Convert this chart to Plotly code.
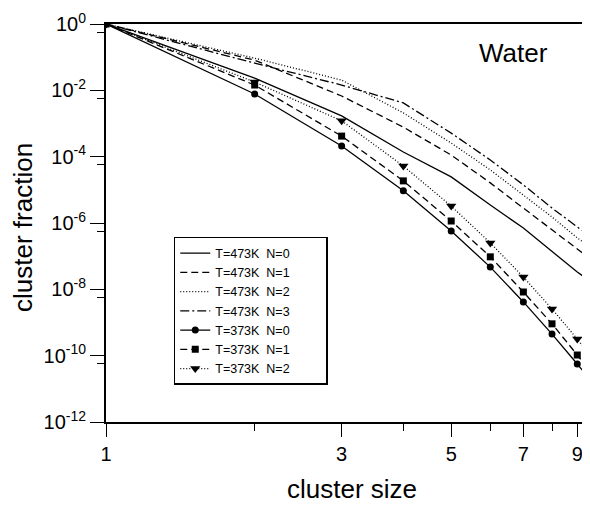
import plotly.graph_objects as go

# cluster size (x) and log10(cluster fraction)
cluster_size = [1, 2, 3, 4, 5, 6, 7, 8, 9, 10]

log_t473_n0 = [0, -1.63, -2.77, -3.86, -4.61, -5.46, -6.15, -6.87, -7.48, -7.96]
log_t473_n1 = [0, -1.09, -2.17, -3.11, -3.95, -4.79, -5.55, -6.21, -6.81, -7.30]
log_t473_n2 = [0, -1.03, -1.69, -2.68, -3.59, -4.40, -5.16, -5.82, -6.45, -6.93]
log_t473_n3 = [0, -1.18, -1.84, -2.38, -3.29, -4.10, -4.85, -5.55, -6.12, -6.60]
log_t373_n0 = [0, -2.11, -3.68, -5.03, -6.24, -7.33, -8.38, -9.35, -10.25, -11.09]
log_t373_n1 = [0, -1.84, -3.38, -4.73, -5.94, -7.02, -8.08, -9.04, -9.98, -10.85]
log_t373_n2 = [0, -1.75, -2.92, -4.28, -5.49, -6.60, -7.63, -8.59, -9.50, -10.37]

PAD = "\u00a0" * 9
series_names = ["T=473K\u00a0 N=0", "T=473K\u00a0 N=1", "T=473K\u00a0 N=2", "T=473K\u00a0 N=3",
                "T=373K\u00a0 N=0", "T=373K\u00a0 N=1", "T=373K\u00a0 N=2"]
series_values = [log_t473_n0, log_t473_n1, log_t473_n2, log_t473_n3,
                 log_t373_n0, log_t373_n1, log_t373_n2]

y_tick_exponents = [0, -2, -4, -6, -8, -10, -12]
x_tick_labels = [1, 3, 5, 7, 9]
x_minor_ticks = [2, 4, 6, 8]

dashes = ["solid", "7px,4px", "1px,2px", "9px,3px,2px,3px", "solid", "7px,4px", "1px,2px"]
symbols = [None, None, None, None, "circle", "square", "triangle-down"]
msizes = [0, 0, 0, 0, 7, 7, 9]

FONT = "Liberation Sans, Arial, Helvetica, sans-serif"

fig = go.Figure()
for name, vals, d, s, ms in zip(series_names, series_values, dashes, symbols, msizes):
    yv = [10 ** v for v in vals]
    if s is None:
        fig.add_trace(go.Scatter(x=cluster_size, y=yv, name=name + PAD, mode="lines",
                                 line=dict(color="black", width=1.3, dash=d)))
    else:
        fig.add_trace(go.Scatter(x=cluster_size, y=yv, name=name + PAD, mode="lines+markers",
                                 line=dict(color="black", width=1.3, dash=d),
                                 marker=dict(symbol=s, size=ms, color="black")))

minor_y = [10 ** (e - 0.25) for e in y_tick_exponents[:-1]]

# page body has an 8px margin, so the figure is 8px smaller and margins shifted
fig.update_layout(
    width=582, height=498,
    margin=dict(l=98, r=0, t=16, b=84),
    paper_bgcolor="white", plot_bgcolor="white",
    font=dict(family=FONT, color="black"),
    showlegend=True,
    legend=dict(x=0.14, y=0.465, xanchor="left", yanchor="top",
                bgcolor="white", bordercolor="black", borderwidth=1.5,
                font=dict(size=12.5, family=FONT), itemwidth=30,
                tracegroupgap=0),
    xaxis=dict(type="log", range=[0, 0.98], showgrid=False, zeroline=False,
               showline=True, linecolor="black", linewidth=2, mirror=True,
               ticks="outside", ticklen=13, tickwidth=1.3, tickcolor="black",
               tickvals=x_tick_labels, ticktext=[str(v) for v in x_tick_labels],
               tickfont=dict(size=20),
               minor=dict(tickvals=x_minor_ticks, ticks="outside", ticklen=7,
                          tickcolor="black", tickwidth=1.3, showgrid=False)),
    yaxis=dict(type="log", range=[-12, 0], showgrid=False, zeroline=False,
               showline=True, linecolor="black", linewidth=2,
               ticks="outside", ticklen=14, tickwidth=1.3, tickcolor="black",
               tickvals=[10 ** e for e in y_tick_exponents],
               ticktext=["10<sup>%d</sup>" % e for e in y_tick_exponents],
               tickfont=dict(size=20),
               minor=dict(tickvals=minor_y, ticks="outside", ticklen=7,
                          tickcolor="black", tickwidth=1.3, showgrid=False)),
    annotations=[
        dict(text="Water", xref="paper", yref="paper", x=0.841, y=0.927,
             xanchor="center", yanchor="middle", showarrow=False,
             font=dict(size=26, family=FONT)),
        dict(text="cluster size", xref="paper", yref="paper", x=0.508, y=-0.168,
             xanchor="center", yanchor="middle", showarrow=False,
             font=dict(size=26, family=FONT)),
        dict(text="cluster fraction", xref="paper", yref="paper", x=-0.1715, y=0.49,
             xanchor="center", yanchor="middle", showarrow=False, textangle=-90,
             font=dict(size=26, family=FONT)),
    ],
)

fig.write_html("out.html")
